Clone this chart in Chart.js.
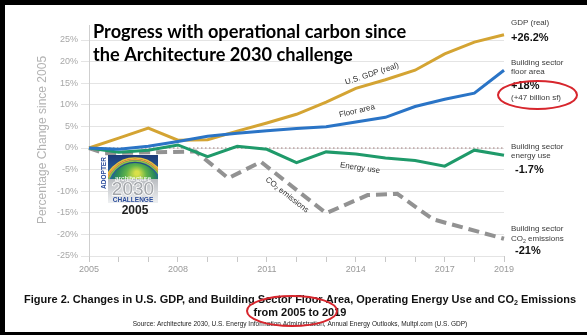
<!DOCTYPE html>
<html>
<head>
<meta charset="utf-8">
<script src="https://cdn.jsdelivr.net/npm/chart.js@4"></script>
<style>
  html, body { margin: 0; padding: 0; background: #fff; }
  #wrap { width: 587px; height: 335px; position: relative; }
</style>
</head>
<body>
<div id="wrap"><canvas id="c" width="587" height="335"></canvas></div>
<script>
// Percentage change since 2005 for each indicator
const years = [2005, 2006, 2007, 2008, 2009, 2010, 2011, 2012, 2013, 2014, 2015, 2016, 2017, 2018, 2019];
const gdpReal = [0, 2.3, 4.6, 1.8, 1.9, 3.9, 5.8, 7.8, 10.6, 13.8, 15.8, 18.0, 21.8, 24.5, 26.2];
const floorArea = [0, -0.3, 0.4, 1.5, 2.7, 3.4, 4.0, 4.5, 4.9, 6.0, 7.1, 9.6, 11.3, 12.7, 18];
const energyUse = [0, -1.0, -0.5, 0.7, -2.0, 0.4, -0.3, -3.4, -0.9, -1.4, -2.3, -2.9, -4.2, -0.5, -1.7];
// CO2 emissions curve has its own breakpoints along the time axis
const co2Years = [2005, 2005.5, 2008.6, 2009.7, 2010.8, 2013, 2014.4, 2015.4, 2016.6, 2019];
const co2Emissions = [0, -1.2, -0.8, -7.0, -3.2, -15.1, -10.9, -10.6, -16.5, -21];
// Axis ticks
const yTicks = [-25, -20, -15, -10, -5, 0, 5, 10, 15, 20, 25];
const xLabelYears = [2005, 2008, 2011, 2014, 2017, 2019];

const SANS = '"Liberation Sans", Arial, sans-serif';

function pts(xs, ys) { return xs.map((x, i) => ({ x: x, y: ys[i] })); }

// Draw text made of runs, some of them subscripts (e.g. CO2)
function richText(ctx, parts, x, y, size, weight, align) {
  const full = weight + ' ' + size + 'px ' + SANS;
  const small = weight + ' ' + (size * 0.65).toFixed(1) + 'px ' + SANS;
  let total = 0;
  parts.forEach(p => { ctx.font = p.sub ? small : full; total += ctx.measureText(p.t).width; });
  let cx = align === 'center' ? x - total / 2 : x;
  ctx.textAlign = 'left';
  parts.forEach(p => {
    ctx.font = p.sub ? small : full;
    ctx.fillText(p.t, cx, p.sub ? y + size * 0.22 : y);
    cx += ctx.measureText(p.t).width;
  });
}

function rotatedLabel(ctx, parts, cx, cy, deg) {
  ctx.save();
  ctx.translate(cx, cy);
  ctx.rotate(deg * Math.PI / 180);
  ctx.fillStyle = '#333';
  ctx.textBaseline = 'middle';
  richText(ctx, parts, 0, 0, 8, '400', 'center');
  ctx.restore();
}

function drawLogo(ctx) {
  const x0 = 108, y0 = 155, w = 50;
  ctx.save();
  // upper panel: night sky with rainbow and globe
  ctx.beginPath(); ctx.rect(x0, y0, w, 24); ctx.clip();
  const sky = ctx.createLinearGradient(0, y0, 0, y0 + 24);
  sky.addColorStop(0, '#1c3b78'); sky.addColorStop(1, '#2d6aa8');
  ctx.fillStyle = sky; ctx.fillRect(x0, y0, w, 24);
  const cx = x0 + 27, cy = y0 + 34;
  [['#e9c23c', 31], ['#f0a03a', 29.5], ['#8cc24b', 28]].forEach(a => {
    ctx.strokeStyle = a[0]; ctx.lineWidth = 1.6;
    ctx.beginPath(); ctx.arc(cx, cy, a[1], Math.PI, 2 * Math.PI); ctx.stroke();
  });
  const globe = ctx.createRadialGradient(cx + 2, cy - 16, 2, cx, cy - 8, 26);
  globe.addColorStop(0, '#d9e04a'); globe.addColorStop(0.35, '#5fb34a');
  globe.addColorStop(0.7, '#2a8a5a'); globe.addColorStop(1, '#1d5d96');
  ctx.fillStyle = globe;
  ctx.beginPath(); ctx.arc(cx, cy, 26, 0, 2 * Math.PI); ctx.fill();
  ctx.restore();
  // lower panel
  const base = ctx.createLinearGradient(0, y0 + 24, 0, y0 + 48);
  base.addColorStop(0, '#b9bcc0'); base.addColorStop(1, '#eef0f2');
  ctx.fillStyle = base; ctx.fillRect(x0, y0 + 24, w, 24);
  ctx.textAlign = 'center'; ctx.textBaseline = 'middle';
  ctx.fillStyle = '#ffffff'; ctx.font = '400 7px ' + SANS;
  ctx.fillText('architecture', x0 + 25, y0 + 24);
  ctx.font = '400 19px ' + SANS;
  ctx.lineWidth = 1.5; ctx.strokeStyle = '#ffffff';
  ctx.strokeText('2030', x0 + 25, y0 + 35);
  ctx.fillStyle = '#a3a6aa'; ctx.fillText('2030', x0 + 25, y0 + 35);
  ctx.font = '700 6.5px ' + SANS; ctx.fillStyle = '#2b4c9b';
  ctx.fillText('CHALLENGE', x0 + 25, y0 + 45);
  // side tag
  ctx.save(); ctx.translate(104.5, 173); ctx.rotate(-Math.PI / 2);
  ctx.font = '700 6.5px ' + SANS; ctx.fillStyle = '#2b4c9b';
  ctx.fillText('ADOPTER', 0, 0); ctx.restore();
  ctx.font = '700 12px ' + SANS; ctx.fillStyle = '#222';
  ctx.fillText('2005', 135, 211);
}

function ellipse(ctx, cx, cy, rx, ry) {
  ctx.save();
  ctx.strokeStyle = '#d7262d'; ctx.lineWidth = 2;
  ctx.beginPath(); ctx.ellipse(cx, cy, rx, ry, 0, 0, 2 * Math.PI); ctx.stroke();
  ctx.restore();
}

const decor = {
  id: 'decor',
  beforeDraw(chart) {
    const ctx = chart.ctx;
    ctx.save(); ctx.fillStyle = '#fff'; ctx.fillRect(0, 0, chart.width, chart.height); ctx.restore();
  },
  beforeDatasetsDraw(chart) {
    const ctx = chart.ctx, a = chart.chartArea, ys = chart.scales.y;
    const y0 = ys.getPixelForValue(0);
    ctx.save();
    ctx.strokeStyle = '#a07a7a'; ctx.lineWidth = 1.2; ctx.setLineDash([1.5, 2.5]);
    ctx.beginPath(); ctx.moveTo(a.left, y0); ctx.lineTo(a.right, y0); ctx.stroke();
    ctx.setLineDash([]);
    // axis line continues a little above the top gridline
    ctx.strokeStyle = '#cfcfcf'; ctx.lineWidth = 1;
    ctx.beginPath(); ctx.moveTo(a.left + 0.5, 25); ctx.lineTo(a.left + 0.5, a.top); ctx.stroke();
    ctx.restore();
  },
  afterDraw(chart) {
    const ctx = chart.ctx;
    ctx.save();
    // y-axis title
    ctx.save(); ctx.translate(43, 140); ctx.rotate(-Math.PI / 2);
    ctx.font = '400 12px ' + SANS; ctx.fillStyle = '#b3b3b3';
    ctx.textAlign = 'center'; ctx.textBaseline = 'middle';
    ctx.fillText('Percentage Change since 2005', 0, 0); ctx.restore();

    // headline
    ctx.fillStyle = '#000'; ctx.textAlign = 'left'; ctx.textBaseline = 'alphabetic';
    ctx.font = '700 18.2px Lato, "Open Sans", sans-serif';
    ctx.fillText('Progress with operational carbon since', 93, 38);
    ctx.fillText('the Architecture 2030 challenge', 93, 61);

    // line labels
    rotatedLabel(ctx, [{ t: 'U.S. GDP (real)' }], 372, 74, -18);
    rotatedLabel(ctx, [{ t: 'Floor area' }], 357, 111, -13);
    rotatedLabel(ctx, [{ t: 'Energy use' }], 360, 168, 8);
    rotatedLabel(ctx, [{ t: 'CO' }, { t: '2', sub: true }, { t: ' emissions' }], 287, 195, 38);

    // end-of-line annotations
    ctx.textBaseline = 'alphabetic'; ctx.textAlign = 'left';
    ctx.fillStyle = '#3a3a3a'; ctx.font = '400 8px ' + SANS;
    ctx.fillText('GDP (real)', 511, 25);
    ctx.fillText('Building sector', 511, 65);
    ctx.fillText('floor area', 511, 74);
    ctx.fillText('(+47 billion sf)', 511, 100);
    ctx.fillText('Building sector', 511, 149);
    ctx.fillText('energy use', 511, 158);
    ctx.fillText('Building sector', 511, 231);
    richText(ctx, [{ t: 'CO' }, { t: '2', sub: true }, { t: ' emissions' }], 511, 241, 8, '400', 'left');
    ctx.fillStyle = '#111'; ctx.font = '700 11px ' + SANS;
    ctx.fillText('+26.2%', 511, 41);
    ctx.fillText('+18%', 511, 89);
    ctx.fillText('-1.7%', 515, 173);
    ctx.fillText('-21%', 515, 254);
    ellipse(ctx, 537.5, 95, 39.5, 14);

    drawLogo(ctx);

    // caption
    ctx.fillStyle = '#111'; ctx.textBaseline = 'alphabetic';
    richText(ctx, [{ t: 'Figure 2. Changes in U.S. GDP, and Building Sector Floor Area, Operating Energy Use and CO' },
      { t: '2', sub: true }, { t: ' Emissions' }], 300, 303, 11, '700', 'center');
    ctx.textAlign = 'center';
    ctx.font = '700 11px ' + SANS;
    ctx.fillText('from 2005 to 2019', 300, 316);
    ctx.font = '400 6.5px ' + SANS; ctx.fillStyle = '#222';
    ctx.fillText('Source: Architecture 2030, U.S. Energy Information Administration, Annual Energy Outlooks, Multpl.com (U.S. GDP)', 300, 326);
    ellipse(ctx, 292, 311, 45, 15);

    // frame
    ctx.fillStyle = '#000';
    ctx.fillRect(0, 0, 587, 5);
    ctx.fillRect(0, 0, 5, 335);
    ctx.fillRect(0, 332, 587, 3);
    ctx.restore();
  }
};

new Chart(document.getElementById('c'), {
  type: 'line',
  data: {
    datasets: [
      { label: 'Floor area', data: pts(years, floorArea), borderColor: '#2a74c6', borderWidth: 3 },
      { label: 'U.S. GDP (real)', data: pts(years, gdpReal), borderColor: '#d4a433', borderWidth: 3 },
      { label: 'Energy use', data: pts(years, energyUse), borderColor: '#1f9a6a', borderWidth: 3 },
      { label: 'CO2 emissions', data: pts(co2Years, co2Emissions), borderColor: '#929292', borderWidth: 4, borderDash: [11, 6] }
    ]
  },
  options: {
    responsive: false,
    devicePixelRatio: 1,
    animation: false,
    layout: { padding: { top: 40, right: 83, bottom: 0, left: 0 } },
    datasets: { line: { clip: false } },
    elements: { point: { radius: 0 }, line: { tension: 0, fill: false, borderCapStyle: 'butt', borderJoinStyle: 'miter' } },
    plugins: { legend: { display: false }, tooltip: { enabled: false } },
    scales: {
      x: {
        type: 'linear', min: 2005, max: 2019,
        afterBuildTicks: s => { s.ticks = years.map(v => ({ value: v })); },
        afterFit: s => { s.height = 79; },
        ticks: {
          autoSkip: false, maxRotation: 0, padding: 2,
          color: '#9a9a9a', font: { family: SANS, size: 9 },
          callback: v => xLabelYears.includes(v) ? String(v) : ''
        },
        grid: { drawOnChartArea: false, drawTicks: true, tickLength: 6, color: '#c8c8c8' },
        border: { display: false }
      },
      y: {
        min: -25, max: 25,
        afterBuildTicks: s => { s.ticks = yTicks.map(v => ({ value: v })); },
        afterFit: s => { s.width = 89; },
        ticks: { padding: 3, color: '#a8a8a8', font: { family: SANS, size: 9 }, callback: v => v + '%' },
        grid: { color: '#e4e4e4', tickLength: 8, lineWidth: 1 },
        border: { display: true, color: '#cfcfcf' }
      }
    }
  },
  plugins: [decor]
});
</script>
</body>
</html>
